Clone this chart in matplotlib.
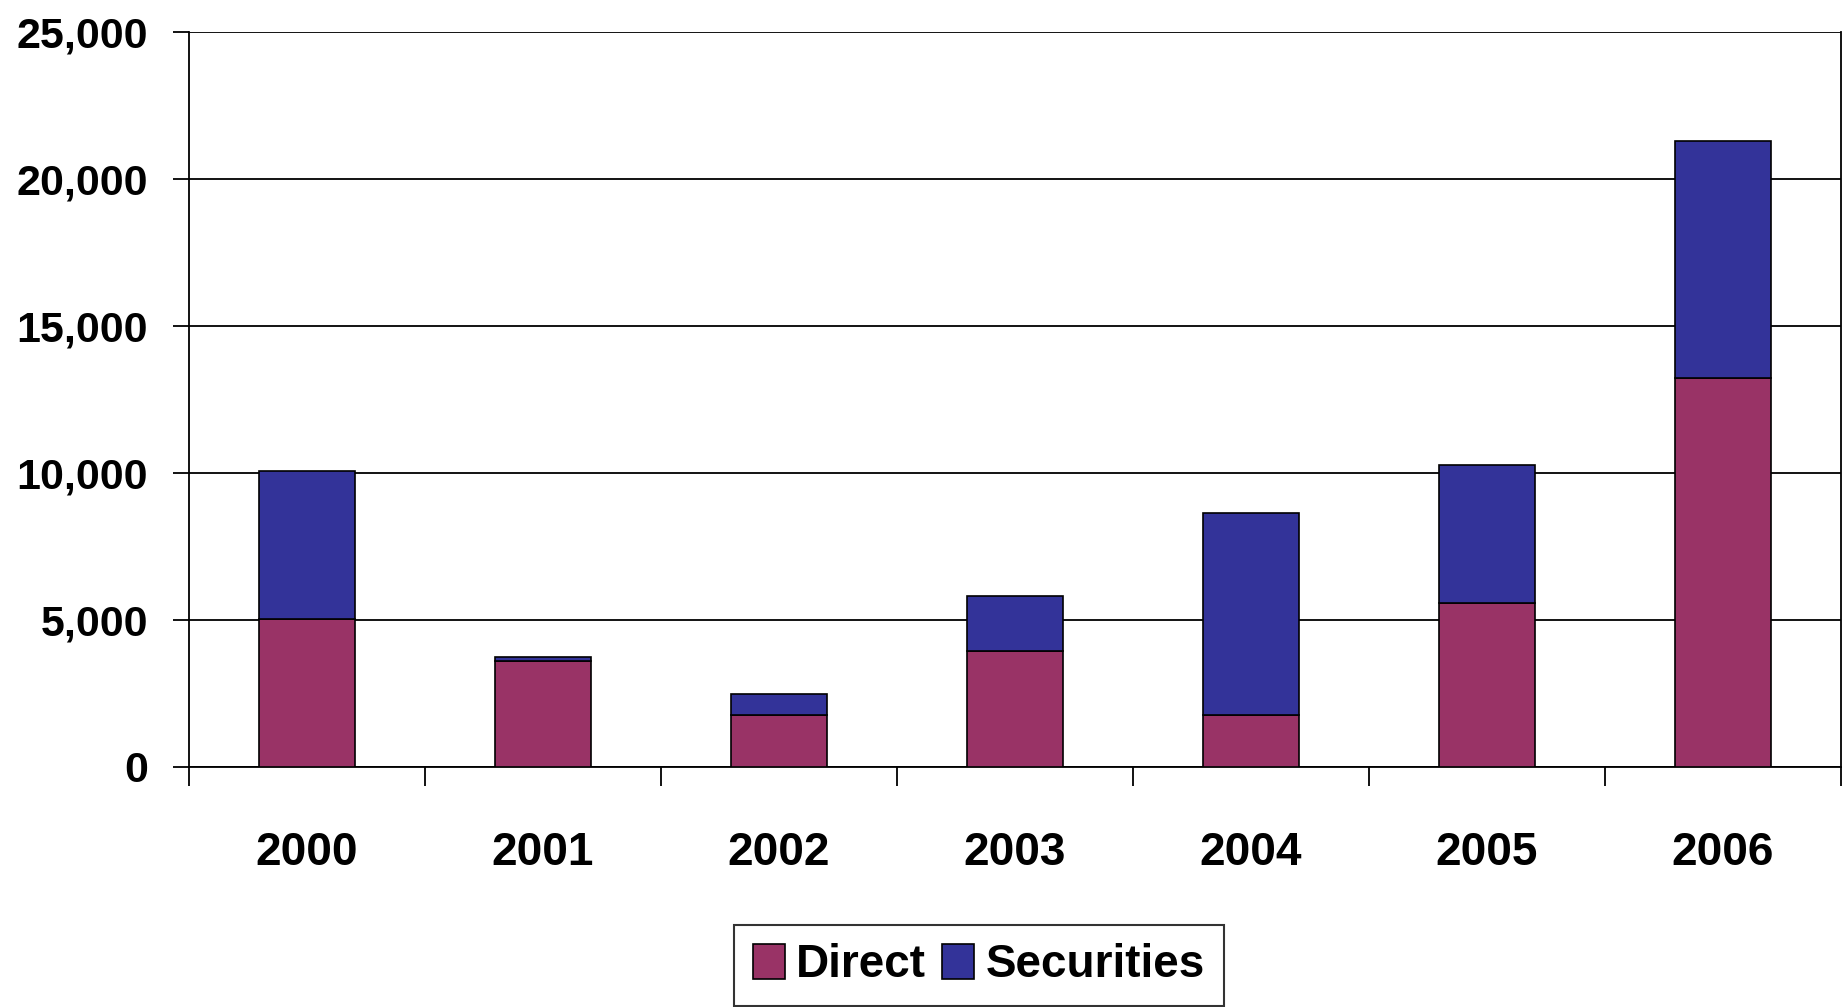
import numpy as np
import matplotlib.pyplot as plt

# data
years = ['2000', '2001', '2002', '2003', '2004', '2005', '2006']
direct = [5030, 3610, 1770, 3960, 1770, 5590, 13230]
securities = [5050, 130, 710, 1870, 6860, 4670, 8060]
y_ticks = [0, 5000, 10000, 15000, 20000, 25000]

plt.rcParams['font.family'] = ['Liberation Sans Narrow', 'Liberation Sans', 'DejaVu Sans']
plt.rcParams['font.weight'] = 'bold'

fig = plt.figure(figsize=(18.49, 10.07), dpi=100)
ax = fig.add_axes([189/1849, 1 - 767/1007, (1841-189)/1849, (767-32)/1007])

x = np.arange(len(years))
ax.bar(x, direct, width=0.41, color='#993366', edgecolor='black', linewidth=1.2,
       label='Direct', zorder=3)
ax.bar(x, securities, width=0.41, bottom=direct, color='#333399', edgecolor='black',
       linewidth=1.2, label='Securities', zorder=3)

ax.set_xlim(-0.5, len(years) - 0.5)
ax.set_ylim(0, 25000)
ax.set_yticks(y_ticks)
ax.set_yticklabels([f'{v:,}' for v in y_ticks], fontsize=31, fontweight='bold')
ax.grid(axis='y', color='black', linewidth=1.3, zorder=0)

# ticks between categories, labels centred under bars
ax.set_xticks(np.arange(len(years) + 1) - 0.5)
ax.set_xticklabels([])
ax.set_xticks(x, minor=True)
ax.set_xticklabels(years, minor=True, fontsize=33, fontweight='bold')
ax.tick_params(axis='x', which='major', direction='out', length=14, width=1.3)
ax.tick_params(axis='x', which='minor', length=0, pad=46)
ax.tick_params(axis='y', direction='out', length=11.5, width=1.3, pad=18)

for side in ['left', 'right', 'top', 'bottom']:
    ax.spines[side].set_linewidth(1.3)
ax.spines['top'].set_visible(False)

leg = fig.legend(loc='upper center', bbox_to_anchor=(979/1849, 1 - 925/1007), ncol=2,
                 fontsize=33, frameon=True, fancybox=False, edgecolor='black',
                 handlelength=0.7, handleheight=0.8, handletextpad=0.25,
                 columnspacing=0.35, borderpad=0.4, borderaxespad=0)
leg.get_frame().set_linewidth(1.5)
for t in leg.get_texts():
    t.set_fontweight('bold')

fig.savefig('out.png', dpi=100)
